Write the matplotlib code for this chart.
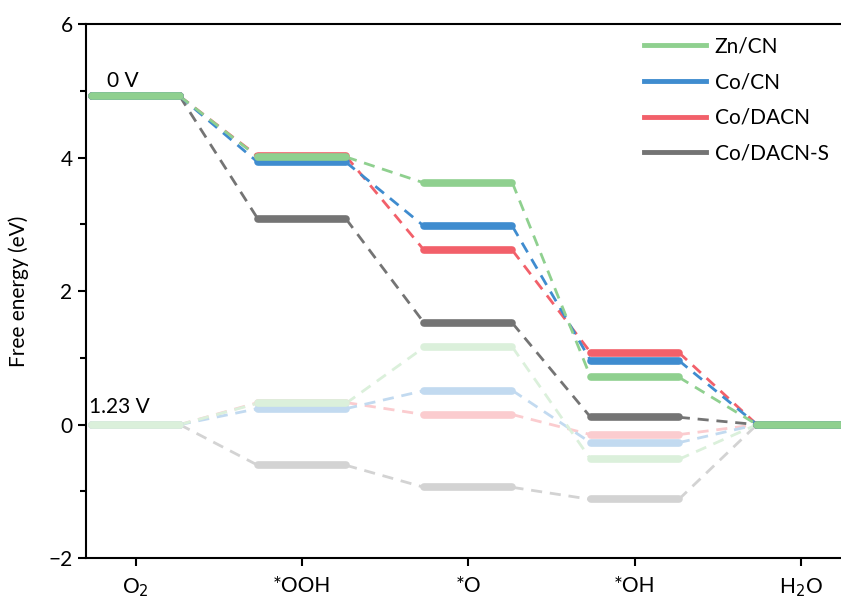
import matplotlib
matplotlib.use("Agg")
import matplotlib.pyplot as plt
from matplotlib.ticker import MultipleLocator
from matplotlib.colors import to_rgb

plt.rcParams['font.family'] = ['Lato', 'DejaVu Sans']

steps = ["O$_2$", "*OOH", "*O", "*OH", "H$_2$O"]
names = ["Zn/CN", "Co/CN", "Co/DACN", "Co/DACN-S"]
colors = ["#8fd08f", "#3f8ccf", "#f2606a", "#747474"]

# free energies at U = 0 V
zn_0 = [4.92, 4.01, 3.62, 0.71, 0.0]
co_0 = [4.92, 3.93, 2.97, 0.96, 0.0]
codacn_0 = [4.92, 4.02, 2.61, 1.08, 0.0]
codacns_0 = [4.92, 3.08, 1.52, 0.11, 0.0]

# free energies at U = 1.23 V
zn_123 = [0.0, 0.32, 1.16, -0.52, 0.0]
co_123 = [0.0, 0.24, 0.51, -0.27, 0.0]
codacn_123 = [0.0, 0.33, 0.15, -0.15, 0.0]
codacns_123 = [0.0, -0.61, -0.94, -1.12, 0.0]

series_0 = [zn_0, co_0, codacn_0, codacns_0]
series_123 = [zn_123, co_123, codacn_123, codacns_123]


def light(c, f=0.32):
    r, g, b = to_rgb(c)
    return (1 - f + f * r, 1 - f + f * g, 1 - f + f * b)


fig = plt.figure(figsize=(8.41, 6.04), dpi=100)
ax = fig.add_axes([0.102, 0.076, 0.898, 0.884])

hw = 0.265
xs = list(range(1, len(steps) + 1))


def draw(vals, color, z):
    for i, (x, v) in enumerate(zip(xs, vals)):
        ax.plot([x - hw, x + hw], [v, v], color=color, lw=5.5,
                solid_capstyle='round', zorder=z + 1)
        if i < len(vals) - 1:
            ax.plot([x + hw, xs[i + 1] - hw], [v, vals[i + 1]], color=color,
                    lw=2, ls=(0, (4, 2.8)), zorder=z)


# faded 1.23 V first, then 0 V; reversed order so Zn/CN sits on top
for k in reversed(range(len(names))):
    draw(series_123[k], light(colors[k]), 1)
for k in reversed(range(len(names))):
    draw(series_0[k], colors[k], 3)

handles = [plt.Line2D([], [], color=c, lw=3.5) for c in colors]
ax.legend(handles, names, loc='upper right', frameon=False, fontsize=15,
          handlelength=3.0, handletextpad=0.4, labelspacing=0.75,
          bbox_to_anchor=(1.0, 1.0), borderaxespad=0.2)

ax.text(0.83, 5.06, "0 V", fontsize=15, ha='left', va='baseline')
ax.text(0.72, 0.18, "1.23 V", fontsize=15, ha='left', va='baseline')

ax.set_xlim(0.70, 5.24)
ax.set_ylim(-2, 6)
ax.set_xticks(xs)
ax.set_xticklabels(steps, fontsize=15)
ax.yaxis.set_major_locator(MultipleLocator(2))
ax.yaxis.set_minor_locator(MultipleLocator(1))
ax.tick_params(axis='y', labelsize=15, width=1.5, length=6)
ax.tick_params(axis='y', which='minor', width=1.5, length=4)
ax.tick_params(axis='x', width=1.5, length=6, pad=7)
ax.set_ylabel("Free energy (eV)", fontsize=15, labelpad=14)
for s in ['left', 'bottom', 'top']:
    ax.spines[s].set_linewidth(1.5)
ax.spines['right'].set_visible(False)

fig.savefig("out.png", dpi=100)
